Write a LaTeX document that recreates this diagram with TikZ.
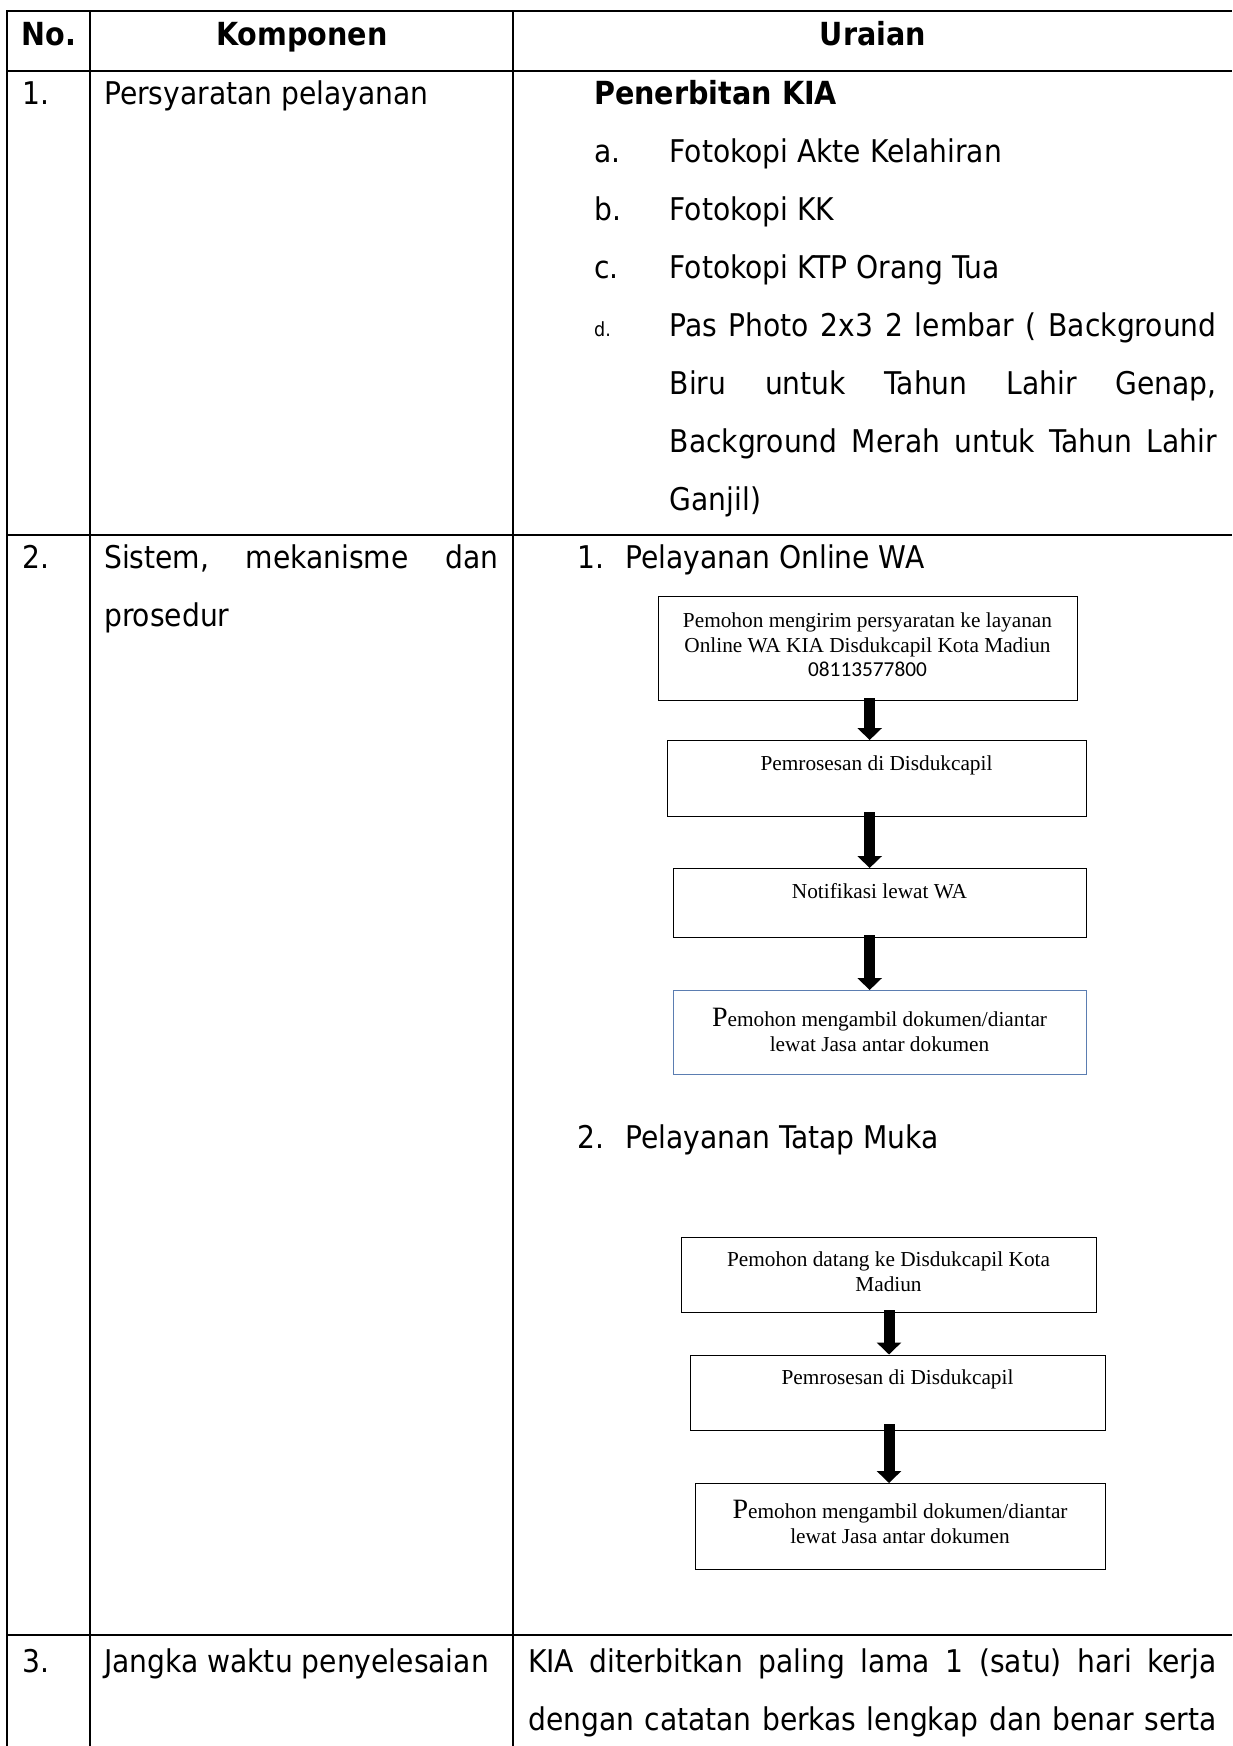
\documentclass[tikz,border=0pt]{standalone}
\usepackage{fontspec}
\setmainfont{DejaVu Sans Condensed}
\newfontfamily\boxfont{Liberation Serif}
\newfontfamily\numfont{Carlito}
\usetikzlibrary{arrows.meta}

\definecolor{boxblue}{HTML}{5B7DB1}

\tikzset{
  gridline/.style={line width=2pt, black},
  cell/.style={anchor=base west, inner sep=0pt, font=\fontsize{31.3}{31.3}\selectfont},
  headcell/.style={anchor=base, inner sep=0pt, font=\fontsize{31.8}{31.8}\selectfont\bfseries},
  flowbox/.style={draw=black, line width=1.3pt, anchor=north west, inner sep=0pt},
  bluebox/.style={flowbox, draw=boxblue},
  boxtext/.style={anchor=north, inner sep=0pt, align=center,
                  font=\boxfont\fontsize{21.3}{24.5}\selectfont},
  bigarrow/.style={line width=11pt, -{Triangle[width=24pt,length=12pt]}},
}
\newcommand\bigP{{\fontsize{28}{24.5}\selectfont P}}

\begin{document}
\begin{tikzpicture}[x=1pt,y=-1pt]
\useasboundingbox (0,0) rectangle (1232,1746);

% table grid
\draw[gridline] (7,11) -- (1232,11);
\draw[gridline] (7,71) -- (1232,71);
\draw[gridline] (7,535) -- (1232,535);
\draw[gridline] (7,1635) -- (1232,1635);
\draw[gridline] (7,10) -- (7,1746);
\draw[gridline] (90,10) -- (90,1746);
\draw[gridline] (513,10) -- (513,1746);

% header
\node[headcell] (hno) at (49,45) {No.};
\node[headcell] (hkomp) at (302,45) {Komponen};
\node[headcell] (hurai) at (873,45) {Uraian};

% row 1
\node[cell] (n1) at (22,104) {1.};
\node[cell] (k1) at (104,104) {Persyaratan pelayanan};
\node[cell, font=\fontsize{31.8}{31.8}\selectfont\bfseries] (u1) at (594,104) {Penerbitan KIA};
\node[cell] (la) at (594,162) {a.};
\node[cell] (ia) at (669.5,162) {Fotokopi Akte Kelahiran};
\node[cell] (lb) at (594,220) {b.};
\node[cell] (ib) at (669.5,220) {Fotokopi KK};
\node[cell] (lc) at (594,278) {c.};
\node[cell] (ic) at (669.5,278) {Fotokopi KTP Orang Tua};
\node[cell, font=\fontsize{19.5}{19.5}\selectfont] (ld) at (594,336) {d.};
\node[cell] (id1) at (669.5,336) {\hbox to 547pt{Pas\hfill Photo\hfill 2x3\hfill 2\hfill lembar\hfill (\hfill Background}};
\node[cell] (id2) at (669.5,394) {\hbox to 547pt{Biru\hfill untuk\hfill Tahun\hfill Lahir\hfill Genap,}};
\node[cell] (id3) at (669.5,452) {\hbox to 547pt{Background\hfill Merah\hfill untuk\hfill Tahun\hfill Lahir}};
\node[cell] (id4) at (669.5,510) {Ganjil)};

% row 2
\node[cell] (n2) at (22,568) {2.};
\node[cell] (k2a) at (104,568) {\hbox to 394pt{Sistem,\hfill mekanisme\hfill dan}};
\node[cell] (k2b) at (104,626) {prosedur};
\node[cell] (s1n) at (577,568) {1.};
\node[cell] (s1) at (625,568) {Pelayanan Online WA};

% online flow
\node[flowbox, minimum width=419pt, minimum height=104pt] (b1) at (658,596) {};
\node[boxtext] (t1) at (867.5,613) {Pemohon mengirim persyaratan ke layanan\\
  Online WA KIA Disdukcapil Kota Madiun\\ {\numfont 08113577800}};
\node[flowbox, minimum width=419pt, minimum height=76pt] (b2) at (667,740) {};
\node[boxtext] (t2) at (876.5,756) {Pemrosesan di Disdukcapil};
\node[flowbox, minimum width=413pt, minimum height=69pt] (b3) at (673,868) {};
\node[boxtext] (t3) at (879.5,883) {Notifikasi lewat WA};
\node[bluebox, minimum width=413pt, minimum height=84pt] (b4) at (673,990) {};
\node[boxtext] (t4) at (879.5,1008) {\bigP emohon mengambil dokumen/diantar\\ lewat Jasa antar dokumen};

\draw[bigarrow] ([xshift=1.5pt,yshift=3pt]b1.south) -- ([xshift=1.5pt]b1.south |- b2.north);
\draw[bigarrow] ([xshift=1.5pt,yshift=5pt]b1.south |- b2.south) -- ([xshift=1.5pt]b1.south |- b3.north);
\draw[bigarrow] ([xshift=1.5pt,yshift=3pt]b1.south |- b3.south) -- ([xshift=1.5pt]b1.south |- b4.north);

\node[cell] (s2n) at (577,1148) {2.};
\node[cell] (s2) at (625,1148) {Pelayanan Tatap Muka};

% face-to-face flow
\node[flowbox, minimum width=415pt, minimum height=75.5pt] (b5) at (681,1236.5) {};
\node[boxtext] (t5) at (888.5,1252) {Pemohon datang ke Disdukcapil Kota\\ Madiun};
\node[flowbox, minimum width=415pt, minimum height=75.5pt] (b6) at (690,1354.5) {};
\node[boxtext] (t6) at (897.5,1370) {Pemrosesan di Disdukcapil};
\node[flowbox, minimum width=410pt, minimum height=85.5pt] (b7) at (695,1483) {};
\node[boxtext] (t7) at (900,1500) {\bigP emohon mengambil dokumen/diantar\\ lewat Jasa antar dokumen};

\coordinate (ax) at (889,0);
\draw[bigarrow] ([yshift=3pt]ax |- b5.south) -- (ax |- b6.north);
\draw[bigarrow] ([yshift=7pt]ax |- b6.south) -- (ax |- b7.north);

% row 3
\node[cell] (n3) at (22,1672) {3.};
\node[cell] (k3) at (104,1672) {Jangka waktu penyelesaian};
\node[cell] (u3a) at (528,1672) {\hbox to 688.5pt{KIA\hfill diterbitkan\hfill paling\hfill lama\hfill 1\hfill (satu)\hfill hari\hfill kerja}};
\node[cell] (u3b) at (528,1730) {\hbox to 688.5pt{dengan\hfill catatan\hfill berkas\hfill lengkap\hfill dan\hfill benar\hfill serta}};
\end{tikzpicture}
\end{document}
